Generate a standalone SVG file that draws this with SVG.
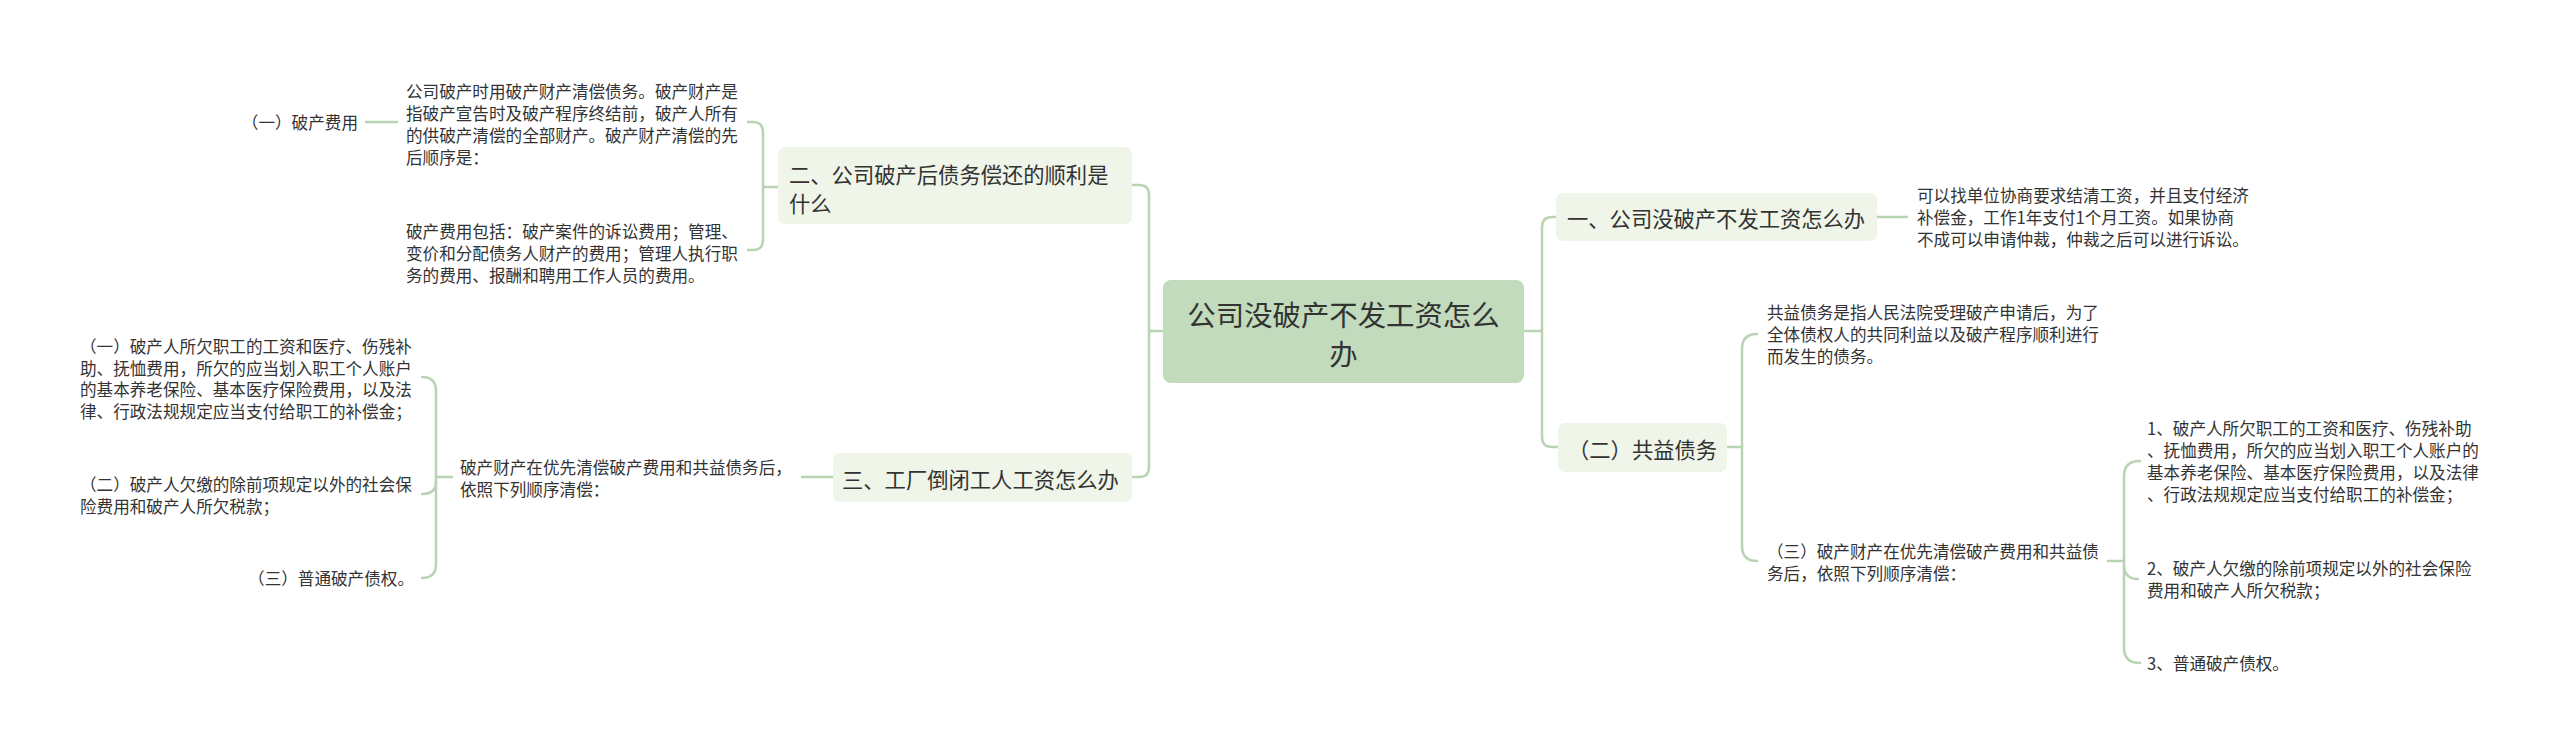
<svg xmlns="http://www.w3.org/2000/svg" width="2560" height="752" viewBox="0 0 2560 752">
<style>
.bg{fill:#ffffff}
.root{fill:#c2dbbc}
.br{fill:#eff5e8}
.ln{fill:none;stroke:#b9d4b3;stroke-width:2.5;stroke-linecap:round}
text{font-family:"Noto Sans CJK SC","Noto Sans",sans-serif;fill:#333333;dominant-baseline:central}
.t28{font-size:28.4px}
.t21{font-size:21.3px}
.t16{font-size:16.6px}
</style>
<rect class="bg" x="0" y="0" width="2560" height="752"/>
<g id="connectors">
<path class="ln" d="M1149,331 H1163"/>
<path class="ln" d="M1132,185 H1139 Q1149,185 1149,195 V467 Q1149,477 1139,477 H1132"/>
<path class="ln" d="M748,122 H753 Q763,122 763,132 V240 Q763,250 753,250 H748"/>
<path class="ln" d="M763,187 H778"/>
<path class="ln" d="M366,122 H397"/>
<path class="ln" d="M833,477 H802"/>
<path class="ln" d="M422,377 Q436,377 436,391 V564 Q436,578 422,578"/>
<path class="ln" d="M422,494 Q436,494 436,482"/>
<path class="ln" d="M436,477 H452"/>
<path class="ln" d="M1524,331 H1542"/>
<path class="ln" d="M1556,217 H1552 Q1542,217 1542,227 V437 Q1542,447 1552,447 H1558"/>
<path class="ln" d="M1877,217 H1907"/>
<path class="ln" d="M1727,447 H1742"/>
<path class="ln" d="M1757,334 Q1742,334 1742,349 V546 Q1742,561 1757,561"/>
<path class="ln" d="M2108,561 H2124"/>
<path class="ln" d="M2140,461 Q2124,461 2124,476 V648 Q2124,663 2140,663"/>
<path class="ln" d="M2124,565 Q2124,579 2138,579"/>
</g>
<g id="root">
<rect class="root" x="1163" y="280" width="361" height="103" rx="8"/>
<text class="t28" x="1343.5" y="313" text-anchor="middle">公司没破产不发工资怎么</text>
<text class="t28" x="1343.5" y="352" text-anchor="middle">办</text>
</g>
<g id="n2">
<rect class="br" x="778" y="147" width="354" height="77" rx="7"/>
<text class="t21" x="789" y="173">二、公司破产后债务偿还的顺利是</text>
<text class="t21" x="789" y="202">什么</text>
</g>
<g id="n2a">
<text class="t16" x="406" y="91">公司破产时用破产财产清偿债务。破产财产是</text>
<text class="t16" x="406" y="113">指破产宣告时及破产程序终结前，破产人所有</text>
<text class="t16" x="406" y="135">的供破产清偿的全部财产。破产财产清偿的先</text>
<text class="t16" x="406" y="157">后顺序是：</text>
</g>
<g id="n2a1">
<text class="t16" x="358" y="122" text-anchor="end">（一）破产费用</text>
</g>
<g id="n2b">
<text class="t16" x="406" y="231">破产费用包括：破产案件的诉讼费用；管理、</text>
<text class="t16" x="406" y="253">变价和分配债务人财产的费用；管理人执行职</text>
<text class="t16" x="406" y="275">务的费用、报酬和聘用工作人员的费用。</text>
</g>
<g id="n3">
<rect class="br" x="833" y="453" width="299" height="49" rx="7"/>
<text class="t21" x="842" y="478">三、工厂倒闭工人工资怎么办</text>
</g>
<g id="n3a">
<text class="t16" x="460" y="467">破产财产在优先清偿破产费用和共益债务后，</text>
<text class="t16" x="460" y="489">依照下列顺序清偿：</text>
</g>
<g id="n3a1">
<text class="t16" x="80" y="346">（一）破产人所欠职工的工资和医疗、伤残补</text>
<text class="t16" x="80" y="368">助、抚恤费用，所欠的应当划入职工个人账户</text>
<text class="t16" x="80" y="389">的基本养老保险、基本医疗保险费用，以及法</text>
<text class="t16" x="80" y="411">律、行政法规规定应当支付给职工的补偿金；</text>
</g>
<g id="n3a2">
<text class="t16" x="80" y="484">（二）破产人欠缴的除前项规定以外的社会保</text>
<text class="t16" x="80" y="506">险费用和破产人所欠税款；</text>
</g>
<g id="n3a3">
<text class="t16" x="414" y="578" text-anchor="end">（三）普通破产债权。</text>
</g>
<g id="n1">
<rect class="br" x="1556" y="193" width="321" height="48" rx="7"/>
<text class="t21" x="1567" y="217">一、公司没破产不发工资怎么办</text>
</g>
<g id="n1a">
<text class="t16" x="1917" y="195">可以找单位协商要求结清工资，并且支付经济</text>
<text class="t16" x="1917" y="217">补偿金，工作1年支付1个月工资。如果协商</text>
<text class="t16" x="1917" y="239">不成可以申请仲裁，仲裁之后可以进行诉讼。</text>
</g>
<g id="n4">
<rect class="br" x="1558" y="423" width="169" height="49" rx="7"/>
<text class="t21" x="1568" y="448">（二）共益债务</text>
</g>
<g id="n4a">
<text class="t16" x="1767" y="312">共益债务是指人民法院受理破产申请后，为了</text>
<text class="t16" x="1767" y="334">全体债权人的共同利益以及破产程序顺利进行</text>
<text class="t16" x="1767" y="356">而发生的债务。</text>
</g>
<g id="n4b">
<text class="t16" x="1767" y="551">（三）破产财产在优先清偿破产费用和共益债</text>
<text class="t16" x="1767" y="573">务后，依照下列顺序清偿：</text>
</g>
<g id="n4b1">
<text class="t16" x="2147" y="428">1、破产人所欠职工的工资和医疗、伤残补助</text>
<text class="t16" x="2147" y="450">、抚恤费用，所欠的应当划入职工个人账户的</text>
<text class="t16" x="2147" y="472">基本养老保险、基本医疗保险费用，以及法律</text>
<text class="t16" x="2147" y="494">、行政法规规定应当支付给职工的补偿金；</text>
</g>
<g id="n4b2">
<text class="t16" x="2147" y="568">2、破产人欠缴的除前项规定以外的社会保险</text>
<text class="t16" x="2147" y="590">费用和破产人所欠税款；</text>
</g>
<g id="n4b3">
<text class="t16" x="2147" y="663">3、普通破产债权。</text>
</g>
</svg>
